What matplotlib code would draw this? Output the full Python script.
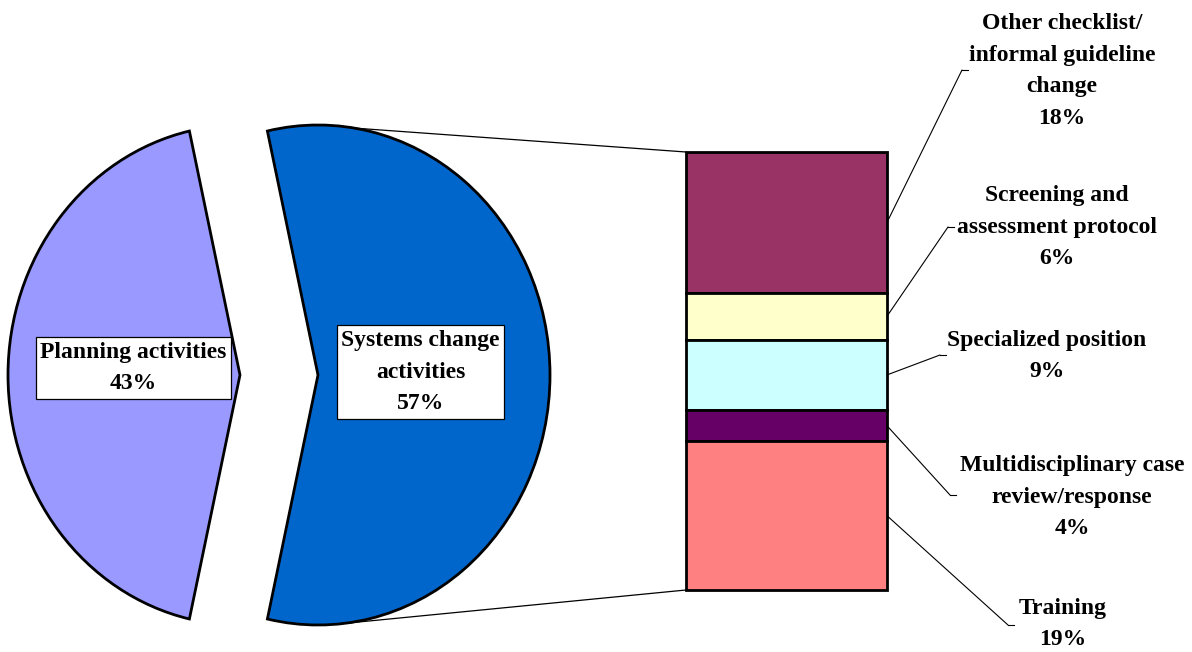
import numpy as np
import matplotlib
matplotlib.use("Agg")
import matplotlib.pyplot as plt
from matplotlib.patches import ConnectionPatch

# pie data
pie_labels = ["Planning activities", "Systems change\nactivities"]
pie_values = [43, 57]
pie_colors = ["#9999FF", "#0066CC"]

# breakdown of systems change activities (top to bottom)
bar_labels = ["Other checklist/\ninformal guideline\nchange", "Screening and\nassessment protocol",
              "Specialized position", "Multidisciplinary case\nreview/response", "Training"]
bar_values = [18, 6, 9, 4, 19]
bar_colors = ["#993366", "#FFFFCC", "#CCFFFF", "#660066", "#FF8080"]

plt.rcParams['font.family'] = ['Liberation Serif', 'DejaVu Serif']
FS = 17
LS = 1.68

W, H = 1192, 652
fig = plt.figure(figsize=(W / 100, H / 100), dpi=100)

# pie axes (slightly squeezed horizontally like the original)
rx, ry = 232, 250
cx, cy = 279, 375
ax_pie = fig.add_axes([(cx - 1.25 * rx) / W, (H - cy - 1.25 * ry) / H, 2.5 * rx / W, 2.5 * ry / H])
share = pie_values[0] / sum(pie_values)
start = 180 - 360 * share / 2
expl = 39 / rx
wedges, _ = ax_pie.pie(pie_values, colors=pie_colors, startangle=start, explode=[expl, expl],
                       wedgeprops=dict(edgecolor="black", linewidth=2))
ax_pie.set_aspect("auto")
ax_pie.set_xlim(-1.25, 1.25)
ax_pie.set_ylim(-1.25, 1.25)
ax_pie.axis("off")

# stacked bar axes
bx0, bx1, by0, by1 = 686, 887, 152, 590
ax_bar = fig.add_axes([bx0 / W, (H - by1) / H, (bx1 - bx0) / W, (by1 - by0) / H])
total = sum(bar_values)
bottoms = total - np.cumsum(bar_values)
for v, b, c in zip(bar_values, bottoms, bar_colors):
    ax_bar.bar(0, v, bottom=b, width=1, color=c, edgecolor="black", linewidth=2, clip_on=False)
ax_bar.set_xlim(-0.5, 0.5)
ax_bar.set_ylim(0, total)
ax_bar.axis("off")

# overlay in pixel coords (y down)
ov = fig.add_axes([0, 0, 1, 1])
ov.set_xlim(0, W)
ov.set_ylim(H, 0)
ov.axis("off")
ov.patch.set_alpha(0)

# connector lines pie -> bar
for ang, yb in [(81, total), (-86, 0)]:
    p = (expl + np.cos(np.radians(ang)), np.sin(np.radians(ang)))
    con = ConnectionPatch(xyA=p, coordsA=ax_pie.transData, xyB=(-0.5, yb), coordsB=ax_bar.transData,
                          color="black", linewidth=0.9)
    fig.add_artist(con)

# pie labels
pie_text_pos = [(133.5, 368), (420.5, 372)]
for lab, v, (x, y) in zip(pie_labels, pie_values, pie_text_pos):
    ov.text(x, y, f"{lab}\n{v}%", ha="center", va="center", fontsize=FS, fontweight="bold",
            linespacing=LS,
            bbox=dict(boxstyle="square,pad=0.2", facecolor="white", edgecolor="black", linewidth=0.9))

# bar labels with leader lines
label_pos = [(1062, 71), (1057, 227), (1047, 356), (1072, 497), (1063, 624)]
leader_end = [(962, 70), (948, 227), (940, 355), (950, 495), (1008, 625)]
mids = bottoms + np.array(bar_values) / 2
for lab, v, (tx, ty), (lx, ly), m in zip(bar_labels, bar_values, label_pos, leader_end, mids):
    ov.text(tx, ty, f"{lab}\n{v}%", ha="center", va="center", fontsize=FS, fontweight="bold",
            linespacing=LS)
    con = ConnectionPatch(xyA=(0.5, m), coordsA=ax_bar.transData, xyB=(lx, ly), coordsB=ov.transData,
                          color="black", linewidth=0.8)
    fig.add_artist(con)
    ov.plot([lx, lx + 6], [ly, ly], color="black", linewidth=0.8)

fig.savefig("out.png", dpi=100)
